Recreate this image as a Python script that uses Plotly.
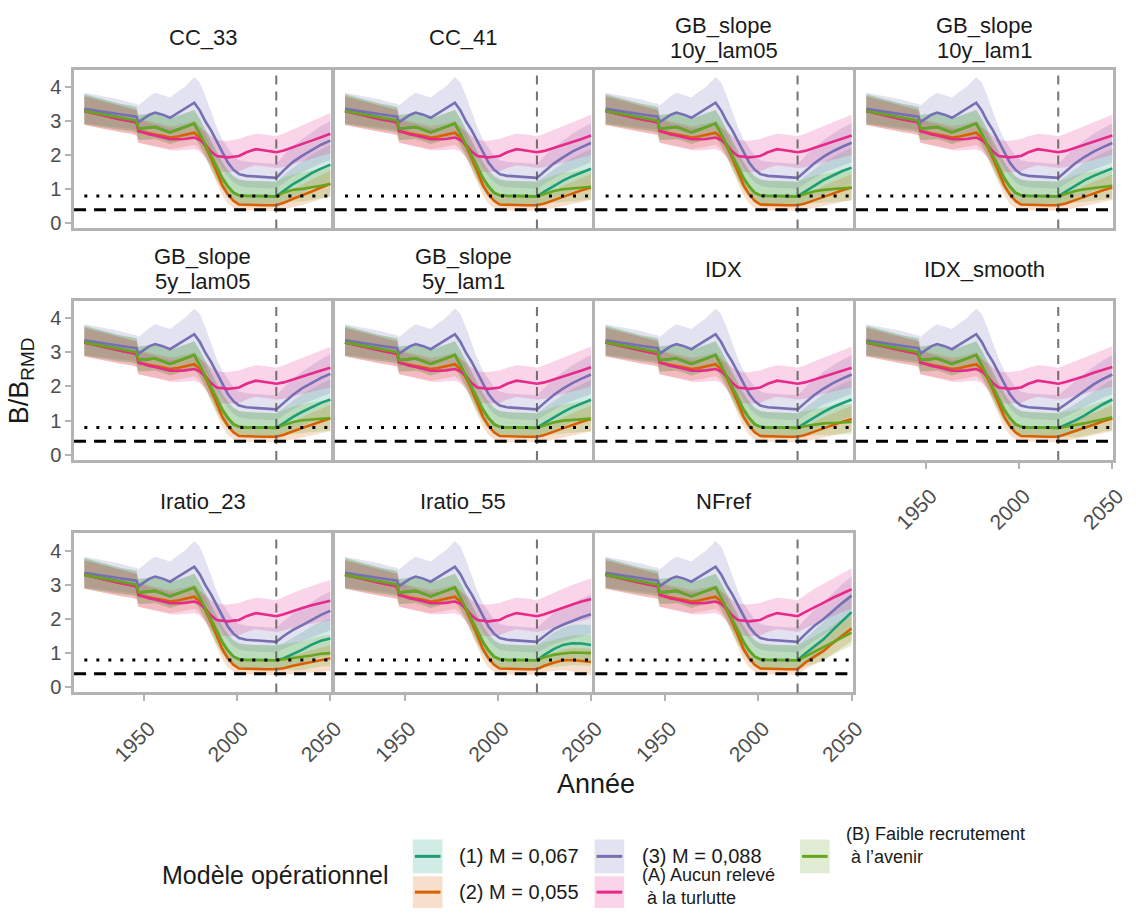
import plotly.graph_objects as go

# ---------------- data ----------------
HIST_YEARS = [1918, 1925, 1931, 1937, 1943, 1946, 1947, 1950, 1953, 1956, 1960, 1964, 1968,
              1972, 1977, 1980, 1983, 1986, 1989, 1992, 1995, 1998, 2001, 2005, 2010, 2015, 2021]
PROJ_YEARS = [2021, 2025, 2030, 2035, 2040, 2045, 2050]

# historical reconstruction (shared by every panel)
HIST_MID_1 = [3.29, 3.22, 3.14, 3.09, 3.04, 3.00, 2.77, 2.78, 2.80, 2.82, 2.74, 2.66, 2.74, 2.82, 2.92, 2.62, 2.30, 1.95, 1.62, 1.32, 1.08, 0.90, 0.82, 0.80, 0.80, 0.79, 0.79]
HIST_LO_1 = [2.90, 2.84, 2.78, 2.74, 2.70, 2.66, 2.44, 2.44, 2.45, 2.47, 2.40, 2.32, 2.38, 2.45, 2.55, 2.28, 1.98, 1.62, 1.28, 1.00, 0.78, 0.63, 0.57, 0.55, 0.55, 0.55, 0.55]
HIST_HI_1 = [3.78, 3.68, 3.58, 3.50, 3.44, 3.40, 3.17, 3.18, 3.20, 3.22, 3.14, 3.06, 3.14, 3.22, 3.32, 3.05, 2.75, 2.42, 2.10, 1.80, 1.55, 1.38, 1.28, 1.25, 1.24, 1.23, 1.22]

HIST_MID_2 = [3.29, 3.20, 3.12, 3.05, 2.99, 2.95, 2.70, 2.66, 2.63, 2.60, 2.56, 2.51, 2.54, 2.58, 2.65, 2.50, 2.25, 1.90, 1.50, 1.12, 0.85, 0.66, 0.55, 0.54, 0.53, 0.53, 0.53]
HIST_LO_2 = [2.88, 2.80, 2.73, 2.67, 2.62, 2.58, 2.36, 2.32, 2.29, 2.26, 2.22, 2.17, 2.20, 2.24, 2.30, 2.16, 1.92, 1.56, 1.18, 0.82, 0.58, 0.45, 0.38, 0.37, 0.37, 0.37, 0.37]
HIST_HI_2 = [3.72, 3.62, 3.52, 3.44, 3.36, 3.32, 3.06, 3.02, 2.98, 2.95, 2.90, 2.85, 2.88, 2.92, 3.00, 2.85, 2.60, 2.25, 1.85, 1.45, 1.15, 0.92, 0.78, 0.76, 0.75, 0.75, 0.75]

HIST_MID_3 = [3.35, 3.30, 3.24, 3.19, 3.14, 3.12, 2.96, 3.06, 3.18, 3.24, 3.18, 3.09, 3.22, 3.35, 3.53, 3.30, 2.98, 2.72, 2.42, 2.08, 1.78, 1.57, 1.44, 1.39, 1.37, 1.35, 1.33]
HIST_LO_3 = [2.92, 2.88, 2.84, 2.80, 2.76, 2.74, 2.58, 2.66, 2.75, 2.80, 2.72, 2.62, 2.72, 2.82, 2.95, 2.75, 2.45, 2.20, 1.90, 1.62, 1.38, 1.20, 1.10, 1.06, 1.05, 1.03, 1.02]
HIST_HI_3 = [3.82, 3.75, 3.68, 3.62, 3.53, 3.50, 3.45, 3.60, 3.72, 3.82, 3.76, 3.68, 3.85, 4.00, 4.28, 4.12, 3.72, 3.25, 2.82, 2.46, 2.20, 1.98, 1.85, 1.80, 1.78, 1.76, 1.74]

HIST_MID_A = [3.29, 3.20, 3.12, 3.05, 2.99, 2.95, 2.70, 2.64, 2.60, 2.57, 2.52, 2.46, 2.46, 2.47, 2.51, 2.44, 2.30, 2.10, 1.97, 1.94, 1.93, 1.95, 1.97, 2.08, 2.17, 2.13, 2.08]
HIST_LO_A = [2.88, 2.80, 2.73, 2.67, 2.62, 2.58, 2.36, 2.30, 2.27, 2.24, 2.19, 2.14, 2.13, 2.14, 2.17, 2.10, 1.92, 1.70, 1.55, 1.50, 1.49, 1.50, 1.52, 1.62, 1.70, 1.67, 1.62]
HIST_HI_A = [3.72, 3.62, 3.52, 3.44, 3.36, 3.32, 3.05, 2.98, 2.93, 2.90, 2.85, 2.78, 2.78, 2.80, 2.85, 2.80, 2.70, 2.55, 2.45, 2.42, 2.42, 2.45, 2.47, 2.55, 2.62, 2.60, 2.55]

HIST_MID_B = [3.29, 3.22, 3.14, 3.09, 3.04, 3.00, 2.77, 2.78, 2.80, 2.82, 2.74, 2.66, 2.74, 2.82, 2.92, 2.62, 2.30, 1.95, 1.62, 1.32, 1.08, 0.90, 0.82, 0.80, 0.80, 0.79, 0.79]
HIST_LO_B = [2.90, 2.84, 2.78, 2.74, 2.70, 2.66, 2.44, 2.44, 2.45, 2.47, 2.40, 2.32, 2.38, 2.45, 2.55, 2.28, 1.98, 1.62, 1.28, 1.00, 0.78, 0.63, 0.57, 0.55, 0.55, 0.55, 0.55]
HIST_HI_B = [3.78, 3.68, 3.58, 3.50, 3.44, 3.40, 3.17, 3.18, 3.20, 3.22, 3.14, 3.06, 3.14, 3.22, 3.32, 3.05, 2.75, 2.42, 2.10, 1.80, 1.55, 1.38, 1.28, 1.25, 1.24, 1.23, 1.22]

# projections per management procedure (mid, lo, hi at PROJ_YEARS)
P_CC_33 = {
    "1": ([0.79, 0.95, 1.15, 1.30, 1.47, 1.60, 1.72], [0.55, 0.64, 0.78, 0.89, 1.03, 1.13, 1.22], [1.22, 1.40, 1.63, 1.81, 2.01, 2.16, 2.30]),
    "2": ([0.53, 0.60, 0.72, 0.82, 0.93, 1.05, 1.16], [0.37, 0.41, 0.48, 0.54, 0.61, 0.70, 0.79], [0.75, 0.86, 1.02, 1.14, 1.27, 1.42, 1.55]),
    "3": ([1.33, 1.55, 1.80, 1.98, 2.15, 2.30, 2.42], [1.02, 1.18, 1.37, 1.51, 1.63, 1.75, 1.85], [1.74, 1.99, 2.27, 2.47, 2.67, 2.85, 2.99]),
    "A": ([2.08, 2.13, 2.22, 2.32, 2.42, 2.52, 2.62], [1.62, 1.65, 1.72, 1.81, 1.89, 1.97, 2.05], [2.55, 2.63, 2.75, 2.87, 2.99, 3.11, 3.23]),
    "B": ([0.79, 0.90, 0.98, 1.01, 1.05, 1.10, 1.16], [0.55, 0.60, 0.63, 0.64, 0.68, 0.73, 0.78], [1.22, 1.34, 1.43, 1.48, 1.55, 1.62, 1.69]),
}
P_CC_41 = {
    "1": ([0.79, 0.93, 1.10, 1.25, 1.38, 1.50, 1.60], [0.55, 0.62, 0.73, 0.84, 0.94, 1.03, 1.10], [1.22, 1.38, 1.58, 1.76, 1.92, 2.06, 2.18]),
    "2": ([0.53, 0.58, 0.68, 0.78, 0.88, 0.97, 1.05], [0.37, 0.39, 0.44, 0.50, 0.56, 0.62, 0.68], [0.75, 0.84, 0.98, 1.10, 1.22, 1.34, 1.44]),
    "3": ([1.33, 1.52, 1.75, 1.93, 2.10, 2.23, 2.35], [1.02, 1.15, 1.32, 1.46, 1.58, 1.68, 1.78], [1.74, 1.96, 2.22, 2.42, 2.62, 2.78, 2.92]),
    "A": ([2.08, 2.12, 2.20, 2.29, 2.38, 2.47, 2.57], [1.62, 1.64, 1.70, 1.78, 1.85, 1.92, 2.00], [2.55, 2.62, 2.73, 2.84, 2.95, 3.06, 3.18]),
    "B": ([0.79, 0.86, 0.95, 1.00, 1.02, 1.04, 1.07], [0.55, 0.56, 0.60, 0.63, 0.65, 0.67, 0.69], [1.22, 1.30, 1.40, 1.47, 1.52, 1.56, 1.60]),
}
P_GB_10_05 = {
    "1": ([0.79, 0.93, 1.11, 1.27, 1.40, 1.53, 1.63], [0.55, 0.62, 0.74, 0.86, 0.96, 1.06, 1.13], [1.22, 1.38, 1.59, 1.78, 1.94, 2.09, 2.21]),
    "2": ([0.53, 0.58, 0.68, 0.78, 0.88, 0.97, 1.05], [0.37, 0.39, 0.44, 0.50, 0.56, 0.62, 0.68], [0.75, 0.84, 0.98, 1.10, 1.22, 1.34, 1.44]),
    "3": ([1.33, 1.52, 1.76, 1.95, 2.11, 2.24, 2.36], [1.02, 1.15, 1.33, 1.48, 1.59, 1.69, 1.79], [1.74, 1.96, 2.23, 2.44, 2.63, 2.79, 2.93]),
    "A": ([2.08, 2.12, 2.21, 2.30, 2.39, 2.48, 2.57], [1.62, 1.64, 1.71, 1.79, 1.86, 1.93, 2.00], [2.55, 2.62, 2.74, 2.85, 2.96, 3.07, 3.18]),
    "B": ([0.79, 0.86, 0.94, 0.98, 1.00, 1.02, 1.05], [0.55, 0.56, 0.59, 0.61, 0.63, 0.65, 0.67], [1.22, 1.30, 1.39, 1.45, 1.50, 1.54, 1.58]),
}
P_GB_10_1 = {
    "1": ([0.79, 0.93, 1.10, 1.26, 1.39, 1.51, 1.61], [0.55, 0.62, 0.73, 0.85, 0.95, 1.04, 1.11], [1.22, 1.38, 1.58, 1.77, 1.93, 2.07, 2.19]),
    "2": ([0.53, 0.58, 0.68, 0.78, 0.88, 0.97, 1.05], [0.37, 0.39, 0.44, 0.50, 0.56, 0.62, 0.68], [0.75, 0.84, 0.98, 1.10, 1.22, 1.34, 1.44]),
    "3": ([1.33, 1.52, 1.75, 1.94, 2.10, 2.23, 2.35], [1.02, 1.15, 1.32, 1.47, 1.58, 1.68, 1.78], [1.74, 1.96, 2.22, 2.43, 2.62, 2.78, 2.92]),
    "A": ([2.08, 2.12, 2.21, 2.30, 2.39, 2.48, 2.57], [1.62, 1.64, 1.71, 1.79, 1.86, 1.93, 2.00], [2.55, 2.62, 2.74, 2.85, 2.96, 3.07, 3.18]),
    "B": ([0.79, 0.86, 0.95, 1.00, 1.03, 1.06, 1.10], [0.55, 0.56, 0.60, 0.63, 0.66, 0.69, 0.72], [1.22, 1.30, 1.40, 1.47, 1.53, 1.58, 1.63]),
}
P_GB_5_05 = {
    "1": ([0.79, 0.93, 1.11, 1.26, 1.40, 1.52, 1.62], [0.55, 0.62, 0.74, 0.85, 0.96, 1.05, 1.12], [1.22, 1.38, 1.59, 1.77, 1.94, 2.08, 2.20]),
    "2": ([0.53, 0.59, 0.69, 0.79, 0.89, 0.98, 1.07], [0.37, 0.40, 0.45, 0.51, 0.57, 0.63, 0.70], [0.75, 0.85, 0.99, 1.11, 1.23, 1.35, 1.46]),
    "3": ([1.33, 1.52, 1.76, 1.95, 2.11, 2.25, 2.37], [1.02, 1.15, 1.33, 1.48, 1.59, 1.70, 1.80], [1.74, 1.96, 2.23, 2.44, 2.63, 2.80, 2.94]),
    "A": ([2.08, 2.12, 2.20, 2.29, 2.38, 2.47, 2.55], [1.62, 1.64, 1.70, 1.78, 1.85, 1.92, 1.98], [2.55, 2.62, 2.73, 2.84, 2.95, 3.06, 3.16]),
    "B": ([0.79, 0.87, 0.96, 1.01, 1.04, 1.06, 1.08], [0.55, 0.57, 0.61, 0.64, 0.67, 0.69, 0.70], [1.22, 1.31, 1.41, 1.48, 1.54, 1.58, 1.61]),
}
P_GB_5_1 = {
    "1": ([0.79, 0.93, 1.10, 1.25, 1.39, 1.51, 1.61], [0.55, 0.62, 0.73, 0.84, 0.95, 1.04, 1.11], [1.22, 1.38, 1.58, 1.76, 1.93, 2.07, 2.19]),
    "2": ([0.53, 0.58, 0.68, 0.78, 0.88, 0.97, 1.05], [0.37, 0.39, 0.44, 0.50, 0.56, 0.62, 0.68], [0.75, 0.84, 0.98, 1.10, 1.22, 1.34, 1.44]),
    "3": ([1.33, 1.52, 1.75, 1.94, 2.10, 2.23, 2.35], [1.02, 1.15, 1.32, 1.47, 1.58, 1.68, 1.78], [1.74, 1.96, 2.22, 2.43, 2.62, 2.78, 2.92]),
    "A": ([2.08, 2.12, 2.20, 2.29, 2.38, 2.47, 2.56], [1.62, 1.64, 1.70, 1.78, 1.85, 1.92, 1.99], [2.55, 2.62, 2.73, 2.84, 2.95, 3.06, 3.17]),
    "B": ([0.79, 0.86, 0.95, 1.00, 1.02, 1.04, 1.06], [0.55, 0.56, 0.60, 0.63, 0.65, 0.67, 0.68], [1.22, 1.30, 1.40, 1.47, 1.52, 1.56, 1.59]),
}
P_IDX = {
    "1": ([0.79, 0.93, 1.10, 1.26, 1.40, 1.52, 1.62], [0.55, 0.62, 0.73, 0.85, 0.96, 1.05, 1.12], [1.22, 1.38, 1.58, 1.77, 1.94, 2.08, 2.20]),
    "2": ([0.53, 0.58, 0.68, 0.78, 0.88, 0.97, 1.05], [0.37, 0.39, 0.44, 0.50, 0.56, 0.62, 0.68], [0.75, 0.84, 0.98, 1.10, 1.22, 1.34, 1.44]),
    "3": ([1.33, 1.52, 1.75, 1.94, 2.10, 2.23, 2.35], [1.02, 1.15, 1.32, 1.47, 1.58, 1.68, 1.78], [1.74, 1.96, 2.22, 2.43, 2.62, 2.78, 2.92]),
    "A": ([2.08, 2.12, 2.21, 2.30, 2.38, 2.47, 2.55], [1.62, 1.64, 1.71, 1.79, 1.85, 1.92, 1.98], [2.55, 2.62, 2.74, 2.85, 2.95, 3.06, 3.16]),
    "B": ([0.79, 0.84, 0.89, 0.92, 0.93, 0.94, 0.96], [0.55, 0.55, 0.56, 0.57, 0.58, 0.59, 0.60], [1.22, 1.28, 1.34, 1.39, 1.43, 1.46, 1.49]),
}
P_IDX_SMOOTH = {
    "1": ([0.79, 0.88, 1.00, 1.15, 1.32, 1.48, 1.62], [0.55, 0.58, 0.64, 0.74, 0.88, 1.01, 1.12], [1.22, 1.33, 1.48, 1.66, 1.86, 2.04, 2.20]),
    "2": ([0.53, 0.60, 0.70, 0.79, 0.88, 0.98, 1.06], [0.37, 0.41, 0.46, 0.51, 0.56, 0.63, 0.69], [0.75, 0.86, 1.00, 1.11, 1.22, 1.35, 1.45]),
    "3": ([1.33, 1.48, 1.68, 1.88, 2.06, 2.22, 2.35], [1.02, 1.11, 1.25, 1.41, 1.54, 1.67, 1.78], [1.74, 1.92, 2.15, 2.37, 2.58, 2.77, 2.92]),
    "A": ([2.08, 2.13, 2.21, 2.30, 2.40, 2.49, 2.57], [1.62, 1.65, 1.71, 1.79, 1.87, 1.94, 2.00], [2.55, 2.63, 2.74, 2.85, 2.97, 3.08, 3.18]),
    "B": ([0.79, 0.82, 0.86, 0.92, 0.98, 1.05, 1.10], [0.55, 0.52, 0.51, 0.55, 0.61, 0.68, 0.72], [1.22, 1.26, 1.31, 1.39, 1.48, 1.57, 1.63]),
}
P_IRATIO_23 = {
    "1": ([0.79, 0.85, 0.97, 1.10, 1.25, 1.36, 1.43], [0.55, 0.54, 0.60, 0.69, 0.81, 0.89, 0.93], [1.22, 1.30, 1.45, 1.61, 1.79, 1.92, 2.01]),
    "2": ([0.53, 0.56, 0.63, 0.69, 0.75, 0.80, 0.85], [0.37, 0.37, 0.39, 0.41, 0.43, 0.45, 0.48], [0.75, 0.82, 0.93, 1.01, 1.09, 1.17, 1.24]),
    "3": ([1.33, 1.50, 1.68, 1.82, 1.98, 2.12, 2.24], [1.02, 1.13, 1.25, 1.35, 1.46, 1.57, 1.67], [1.74, 1.94, 2.15, 2.31, 2.50, 2.67, 2.81]),
    "A": ([2.08, 2.14, 2.24, 2.32, 2.40, 2.47, 2.53], [1.62, 1.66, 1.74, 1.81, 1.87, 1.92, 1.96], [2.55, 2.64, 2.77, 2.87, 2.97, 3.06, 3.14]),
    "B": ([0.79, 0.82, 0.85, 0.88, 0.93, 0.98, 1.00], [0.55, 0.52, 0.50, 0.51, 0.56, 0.61, 0.62], [1.22, 1.26, 1.30, 1.35, 1.43, 1.50, 1.53]),
}
P_IRATIO_55 = {
    "1": ([0.79, 0.95, 1.12, 1.24, 1.29, 1.28, 1.24], [0.55, 0.64, 0.75, 0.83, 0.85, 0.81, 0.74], [1.22, 1.40, 1.60, 1.75, 1.83, 1.84, 1.82]),
    "2": ([0.53, 0.63, 0.72, 0.79, 0.80, 0.77, 0.74], [0.37, 0.44, 0.48, 0.51, 0.48, 0.42, 0.37], [0.75, 0.89, 1.02, 1.11, 1.14, 1.14, 1.13]),
    "3": ([1.33, 1.50, 1.70, 1.83, 1.95, 2.05, 2.14], [1.02, 1.13, 1.27, 1.36, 1.43, 1.50, 1.57], [1.74, 1.94, 2.17, 2.32, 2.47, 2.60, 2.71]),
    "A": ([2.08, 2.14, 2.24, 2.33, 2.42, 2.51, 2.58], [1.62, 1.66, 1.74, 1.82, 1.89, 1.96, 2.01], [2.55, 2.64, 2.77, 2.88, 2.99, 3.10, 3.19]),
    "B": ([0.79, 0.88, 0.95, 0.99, 1.02, 1.01, 1.00], [0.55, 0.58, 0.60, 0.62, 0.65, 0.64, 0.62], [1.22, 1.32, 1.40, 1.46, 1.52, 1.53, 1.53]),
}
P_NFREF = {
    "1": ([0.79, 0.98, 1.20, 1.41, 1.68, 1.95, 2.20], [0.55, 0.67, 0.83, 1.00, 1.24, 1.48, 1.70], [1.22, 1.43, 1.68, 1.92, 2.22, 2.51, 2.78]),
    "2": ([0.53, 0.72, 0.90, 1.07, 1.30, 1.52, 1.72], [0.37, 0.53, 0.66, 0.79, 0.98, 1.17, 1.35], [0.75, 0.98, 1.20, 1.39, 1.64, 1.89, 2.11]),
    "3": ([1.33, 1.55, 1.80, 2.00, 2.24, 2.47, 2.68], [1.02, 1.18, 1.37, 1.53, 1.72, 1.92, 2.11], [1.74, 1.99, 2.27, 2.49, 2.76, 3.02, 3.25]),
    "A": ([2.08, 2.20, 2.35, 2.48, 2.62, 2.75, 2.87], [1.62, 1.72, 1.85, 1.97, 2.09, 2.20, 2.30], [2.55, 2.70, 2.88, 3.03, 3.19, 3.34, 3.48]),
    "B": ([0.79, 0.90, 1.04, 1.17, 1.32, 1.47, 1.60], [0.55, 0.60, 0.69, 0.80, 0.95, 1.10, 1.22], [1.22, 1.34, 1.49, 1.64, 1.82, 1.99, 2.13]),
}

PANEL_TITLES = ["CC_33", "CC_41", "GB_slope\n10y_lam05", "GB_slope\n10y_lam1",
                "GB_slope\n5y_lam05", "GB_slope\n5y_lam1", "IDX", "IDX_smooth",
                "Iratio_23", "Iratio_55", "NFref"]
PANEL_DATA = [P_CC_33, P_CC_41, P_GB_10_05, P_GB_10_1, P_GB_5_05, P_GB_5_1,
              P_IDX, P_IDX_SMOOTH, P_IRATIO_23, P_IRATIO_55, P_NFREF]

OM_KEYS = ["1", "2", "3", "A", "B"]
OM_LABELS = {"1": "(1) M = 0,067", "2": "(2) M = 0,055", "3": "(3) M = 0,088",
             "A": "(A) Aucun relevé<br>&nbsp;à la turlutte",
             "B": "(B) Faible recrutement<br>&nbsp;à l’avenir"}
HIST = {
    "1": (HIST_MID_1, HIST_LO_1, HIST_HI_1),
    "2": (HIST_MID_2, HIST_LO_2, HIST_HI_2),
    "3": (HIST_MID_3, HIST_LO_3, HIST_HI_3),
    "A": (HIST_MID_A, HIST_LO_A, HIST_HI_A),
    "B": (HIST_MID_B, HIST_LO_B, HIST_HI_B),
}
LRP = 0.4
USR = 0.8
PROJ_START = 2021
X_TICKS = [1950, 2000, 2050]
Y_TICKS = [0, 1, 2, 3, 4]

# ---------------- styling ----------------
COLORS = {"1": "#1B9E77", "2": "#D95F02", "3": "#7570B3", "A": "#E7298A", "B": "#66A61E"}
FONT = "Liberation Sans, Arial, Helvetica, sans-serif"
W, H = 1136, 918
BORDER = "#b3b3b3"


def rgba(hex_color, a):
    h = hex_color.lstrip("#")
    return f"rgba({int(h[0:2], 16)},{int(h[2:4], 16)},{int(h[4:6], 16)},{a})"


def px(xp):
    return xp / W


def py(yp):
    return 1 - yp / H


COL_LEFT = [75, 338.9, 602.8, 866.7]
PANEL_W = 260.4
ROW_TOP = [70, 303, 537]
PANEL_H = 160
X_RANGE = [1912.5, 2050.5]
Y_RANGE = [-0.15, 4.5]

fig = go.Figure()
layout = {}
shapes = []
annotations = []

for i, (title, pdata) in enumerate(zip(PANEL_TITLES, PANEL_DATA)):
    r, c = divmod(i, 4)
    k = i + 1
    xa = "x" if k == 1 else f"x{k}"
    ya = "y" if k == 1 else f"y{k}"
    bottom = (r == 2) or (r == 1 and c == 3)
    left = c == 0
    x0p, x1p = COL_LEFT[c], COL_LEFT[c] + PANEL_W
    y0p, y1p = ROW_TOP[r], ROW_TOP[r] + PANEL_H
    layout["xaxis" if k == 1 else f"xaxis{k}"] = dict(
        domain=[px(x0p), px(x1p)], range=X_RANGE, anchor=ya,
        tickvals=X_TICKS, showticklabels=bottom, ticks="outside" if bottom else "",
        ticklen=6, tickwidth=1.5, tickcolor=BORDER, tickangle=-45,
        ticklabelstandoff=7, ticklabelshift=5,
        tickfont=dict(family=FONT, size=21, color="#4d4d4d"),
        showline=True, mirror=True, linecolor=BORDER, linewidth=2.5,
        showgrid=False, zeroline=False, fixedrange=True)
    layout["yaxis" if k == 1 else f"yaxis{k}"] = dict(
        domain=[py(y1p), py(y0p)], range=Y_RANGE, anchor=xa,
        tickvals=Y_TICKS, showticklabels=left, ticks="outside" if left else "",
        ticklen=6, tickwidth=1.5, tickcolor=BORDER,
        tickfont=dict(family=FONT, size=20, color="#4d4d4d"),
        showline=True, mirror=True, linecolor=BORDER, linewidth=2.5,
        showgrid=False, zeroline=False, fixedrange=True)

    # ribbons
    for om in OM_KEYS:
        hm, hl, hh = HIST[om]
        pm, pl, ph = pdata[om]
        yrs = HIST_YEARS + PROJ_YEARS[1:]
        lo = hl + pl[1:]
        hi = hh + ph[1:]
        fig.add_trace(go.Scatter(
            x=yrs + yrs[::-1], y=hi + lo[::-1], mode="lines", fill="toself",
            fillcolor=rgba(COLORS[om], 0.2), line=dict(width=0), hoverinfo="skip",
            showlegend=False, xaxis=xa, yaxis=ya))
    # median lines
    for om in OM_KEYS:
        hm, hl, hh = HIST[om]
        pm, pl, ph = pdata[om]
        yrs = HIST_YEARS + PROJ_YEARS[1:]
        mid = hm + pm[1:]
        fig.add_trace(go.Scatter(
            x=yrs, y=mid, mode="lines", line=dict(color=COLORS[om], width=2.6),
            hoverinfo="skip", showlegend=False, xaxis=xa, yaxis=ya))

    # reference lines
    shapes.append(dict(type="line", xref=xa, yref=f"{ya} domain", x0=PROJ_START, x1=PROJ_START,
                       y0=0, y1=1, line=dict(color="rgba(90,90,90,0.85)", width=2, dash="9px,7px")))
    shapes.append(dict(type="line", xref=f"{xa} domain", yref=ya, x0=0, x1=1, y0=LRP, y1=LRP,
                       line=dict(color="black", width=3, dash="12px,8px")))
    shapes.append(dict(type="line", xref=xa, yref=ya, x0=HIST_YEARS[0], x1=PROJ_YEARS[-1],
                       y0=USR, y1=USR, line=dict(color="black", width=3, dash="3px,9px")))

    # strip titles
    lines = title.split("\n")
    cx = (x0p + x1p) / 2
    cy = y0p - 32
    n = len(lines)
    for j, ln in enumerate(lines):
        yy = cy + (j - (n - 1) / 2) * 25
        annotations.append(dict(text=ln, x=px(cx), y=py(yy), xref="paper", yref="paper",
                                xanchor="center", yanchor="middle", showarrow=False,
                                font=dict(family=FONT, size=22, color="#1a1a1a")))

# axis titles
annotations.append(dict(text="B/B<sub>RMD</sub>", x=px(22), y=py(383), xref="paper", yref="paper",
                        xanchor="center", yanchor="middle", textangle=-90, showarrow=False,
                        font=dict(family=FONT, size=27, color="#1a1a1a")))
annotations.append(dict(text="Année", x=px(603), y=py(789), xref="paper", yref="paper",
                        xanchor="center", yanchor="middle", showarrow=False,
                        font=dict(family=FONT, size=27, color="#1a1a1a")))

# legend (drawn manually to mimic the two-row ggplot legend)
annotations.append(dict(text="Modèle opérationnel", x=px(162), y=py(881), xref="paper", yref="paper",
                        xanchor="left", yanchor="middle", showarrow=False,
                        font=dict(family=FONT, size=25, color="#1a1a1a")))
LEG_POS = {"1": (418, 845, 879, 463), "2": (418, 882, 914, 463),
           "3": (602, 845, 879, 648), "A": (602, 882, 914, 648),
           "B": (810, 845, 879, 855)}
LABEL_Y = {"1": 862, "2": 898, "3": 862, "A": 892, "B": 851}
for om in OM_KEYS:
    kx, ky0, ky1, lx = LEG_POS[om]
    shapes.append(dict(type="rect", xref="paper", yref="paper", x0=px(kx), x1=px(kx + 30),
                       y0=py(ky1), y1=py(ky0), fillcolor=rgba(COLORS[om], 0.2), line=dict(width=0)))
    kc = (ky0 + ky1) / 2
    shapes.append(dict(type="line", xref="paper", yref="paper", x0=px(kx + 2), x1=px(kx + 28),
                       y0=py(kc), y1=py(kc), line=dict(color=COLORS[om], width=3)))
    two = "<br>" in OM_LABELS[om]
    fs = 18 if two else 20
    annotations.append(dict(text=OM_LABELS[om], x=px(lx), y=py(LABEL_Y[om]), xref="paper", yref="paper",
                            xanchor="left", yanchor="middle", align="left", showarrow=False,
                            font=dict(family=FONT, size=fs, color="#1a1a1a")))

fig.update_layout(**layout)
fig.update_layout(
    width=W, height=H, autosize=False,
    margin=dict(l=0, r=0, t=0, b=0),
    paper_bgcolor="white", plot_bgcolor="white",
    showlegend=False, shapes=shapes, annotations=annotations,
    font=dict(family=FONT),
)
fig.write_html("out.html")
